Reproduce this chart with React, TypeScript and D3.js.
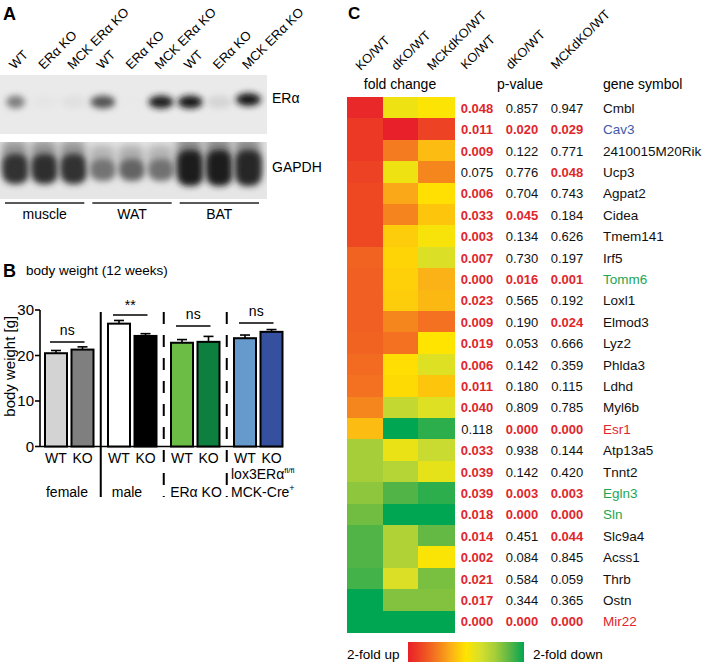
import React from 'react';
import * as d3 from 'd3';

const FONT = '"Liberation Sans", Arial, Helvetica, sans-serif';

// ---------- Panel A (western blot) ----------
const laneLabels = ['WT', 'ERα KO', 'MCK ERα KO', 'WT', 'ERα KO', 'MCK ERα KO', 'WT', 'ERα KO', 'MCK ERα KO'];
const tissues = ['muscle', 'WAT', 'BAT'];
const eraBand = [0.5, 0.02, 0.04, 0.7, 0.0, 0.95, 0.97, 0.1, 0.97];
const gapdhBand = [0.86, 0.87, 0.86, 0.55, 0.62, 0.56, 0.94, 0.95, 0.9];

// ---------- Panel B (body weight) ----------
const groups = ['female', 'male', 'ERα KO', 'lox3'];
const genotypes = ['WT', 'KO'];
const bwWT = [20.5, 27.0, 22.8, 23.8];
const bwKO = [21.3, 24.3, 23.0, 25.2];
const errWT = [0.6, 0.7, 0.7, 0.7];
const errKO = [0.6, 0.5, 1.2, 0.5];
const colWT = ['#d3d3d3', '#ffffff', '#6bbd45', '#6699cc'];
const colKO = ['#7f7f7f', '#000000', '#0d8040', '#34509f'];
const sigLabels = ['ns', '**', 'ns', 'ns'];
const yTicks = [0, 10, 20, 30];

// ---------- Panel C (heatmap) ----------
const genes = ['Cmbl', 'Cav3', '2410015M20Rik', 'Ucp3', 'Agpat2', 'Cidea', 'Tmem141', 'Irf5', 'Tomm6', 'Loxl1',
  'Elmod3', 'Lyz2', 'Phlda3', 'Ldhd', 'Myl6b', 'Esr1', 'Atp13a5', 'Tnnt2', 'Egln3', 'Sln', 'Slc9a4', 'Acss1',
  'Thrb', 'Ostn', 'Mir22'];
const compCols = ['KO/WT', 'dKO/WT', 'MCKdKO/WT'];
const foldKO = [0.95, 0.85, 0.85, 0.8, 0.76, 0.76, 0.76, 0.62, 0.64, 0.64, 0.64, 0.62, 0.58, 0.55, 0.45, 0.2,
  -0.5, -0.5, -0.58, -0.68, -0.78, -0.78, -0.82, -1, -1];
const foldDKO = [-0.1, 1.0, 0.5, -0.1, 0.3, 0.46, 0.12, 0.08, 0.1, 0.12, 0.45, 0.55, 0.03, 0.05, -0.35, -1,
  -0.12, -0.42, -0.78, -1, -0.45, -0.45, -0.22, -0.62, -1];
const foldMCK = [-0.02, 0.8, 0.2, 0.45, 0.02, 0.15, -0.05, -0.22, 0.25, 0.22, 0.55, 0.0, -0.2, 0.15, -0.2, -0.88,
  -0.32, -0.15, -0.88, -1, -0.72, -0.03, -0.65, -0.62, -1];
const pKO = [0.048, 0.011, 0.009, 0.075, 0.006, 0.033, 0.003, 0.007, 0.000, 0.023, 0.009, 0.019, 0.006, 0.011,
  0.040, 0.118, 0.033, 0.039, 0.039, 0.018, 0.014, 0.002, 0.021, 0.017, 0.000];
const pDKO = [0.857, 0.020, 0.122, 0.776, 0.704, 0.045, 0.134, 0.730, 0.016, 0.565, 0.190, 0.053, 0.142, 0.180,
  0.809, 0.000, 0.938, 0.142, 0.003, 0.000, 0.451, 0.084, 0.584, 0.344, 0.000];
const pMCK = [0.947, 0.029, 0.771, 0.048, 0.743, 0.184, 0.626, 0.197, 0.001, 0.192, 0.024, 0.666, 0.359, 0.115,
  0.785, 0.000, 0.144, 0.420, 0.003, 0.000, 0.044, 0.845, 0.059, 0.365, 0.000];
const geneColors: Record<string, string> = {
  Cav3: '#3d5aa8', Tomm6: '#1ea651', Esr1: '#e0262b', Egln3: '#1ea651', Sln: '#1ea651', Mir22: '#e0262b',
};

const colorDomain = [1, 0.75, 0.5, 0.25, 0, -0.25, -0.5, -0.75, -1];
const colorRange = ['#e8202a', '#ee4a23', '#f47b20', '#fbb216', '#ffe400', '#d6e02c', '#a6ce39', '#5bb646', '#00a651'];

export default function App() {
  // ---- A ----
  const lane = d3.scaleBand<number>().domain(d3.range(laneLabels.length)).range([1, 263]);
  const laneC = (i: number) => (lane(i) as number) + lane.bandwidth() / 2;
  const ink = d3.scaleLinear<string>().domain([0, 1]).range(['#e9e9e9', '#121212']);

  // ---- B ----
  const y = d3.scaleLinear().domain([0, 30]).range([446.5, 310]);
  const gx = d3.scaleBand<string>().domain(groups).range([34.5, 286.5]);
  const ix = d3.scaleBand<string>().domain(genotypes).range([10.5, 59]).paddingInner(0.17);
  const bars = groups.flatMap((g, gi) => genotypes.map((gt, k) => ({
    g, gi, gt,
    v: k === 0 ? bwWT[gi] : bwKO[gi],
    e: k === 0 ? errWT[gi] : errKO[gi],
    fill: k === 0 ? colWT[gi] : colKO[gi],
    x: (gx(g) as number) + (ix(gt) as number),
  })));
  const bw = ix.bandwidth();
  const seps = [1, 2, 3].map(gi => {
    const prevEnd = (gx(groups[gi - 1]) as number) + (ix('KO') as number) + bw;
    const nextStart = (gx(groups[gi]) as number) + (ix('WT') as number);
    return (prevEnd + nextStart) / 2;
  });
  const sigY = [342, 315, 326, 323];

  // ---- C ----
  const hx = d3.scaleBand<string>().domain(compCols).range([347, 454]);
  const hy = d3.scaleBand<string>().domain(genes).range([97, 632]);
  const px = d3.scaleBand<string>().domain(compCols).range([454.5, 589.5]);
  const color = d3.scaleLinear<string>().domain(colorDomain).range(colorRange);
  const folds = [foldKO, foldDKO, foldMCK];
  const pvals = [pKO, pDKO, pMCK];
  const fmt = d3.format('.3f');

  return (
    <svg width={709} height={664} style={{ position: 'absolute', left: 0, top: 0, background: '#fff' }}
      fontFamily={FONT}>
      <defs>
        <filter id="blur" x="-50%" y="-50%" width="200%" height="200%">
          <feGaussianBlur stdDeviation="3" />
        </filter>
        <filter id="blur2" x="-50%" y="-50%" width="200%" height="200%">
          <feGaussianBlur stdDeviation="4" />
        </filter>
        <clipPath id="blot1"><rect x={0} y={75} width={267} height={59} /></clipPath>
        <clipPath id="blot2"><rect x={0} y={142} width={267} height={57} /></clipPath>
        <linearGradient id="legendGrad" x1="0" x2="1" y1="0" y2="0">
          {colorDomain.map((d, i) => (
            <stop key={i} offset={`${(i / (colorDomain.length - 1)) * 100}%`} stopColor={color(d)} />
          ))}
        </linearGradient>
      </defs>

      {/* ================= Panel A ================= */}
      <text x={3} y={20} fontSize={18} fontWeight="bold">A</text>
      {laneLabels.map((l, i) => (
        <text key={i} transform={`translate(${laneC(i) - 1},70) rotate(-45)`} fontSize={13}>{l}</text>
      ))}
      <g clipPath="url(#blot1)">
        <rect x={0} y={75} width={267} height={59} fill="#eaeaea" />
        {eraBand.map((v, i) => (
          <ellipse key={i} cx={laneC(i)} cy={i === 8 ? 99.5 : 102} rx={i === 0 ? 9.5 : 12.5} ry={6.5} fill={ink(v)}
            filter="url(#blur)" />
        ))}
      </g>
      <g clipPath="url(#blot2)">
        <rect x={0} y={142} width={267} height={57} fill="#e6e6e6" />
        {gapdhBand.map((v, i) => {
          const t = Math.floor(i / 3);
          const h = t === 0 ? 30 : t === 1 ? 22 : 36;
          const cy = t === 0 ? 169 : t === 1 ? 170 : 168;
          return (
            <g key={i}>
              <rect x={laneC(i) - 14} y={cy - h / 2 - 14} width={26} height={h + 6} rx={8}
                fill={ink(v * 0.45)} filter="url(#blur2)" />
              <rect x={laneC(i) - 13} y={cy - h / 2} width={26} height={h} rx={10}
                fill={ink(v)} filter="url(#blur)" />
            </g>
          );
        })}
      </g>
      <text x={272} y={103} fontSize={14}>ERα</text>
      <text x={272} y={172} fontSize={14}>GAPDH</text>
      {tissues.map((t, ti) => {
        const x0 = lane(ti * 3) as number;
        const x1 = (lane(ti * 3 + 2) as number) + lane.bandwidth();
        return (
          <g key={t}>
            <line x1={x0 + 4} x2={x1 - 4} y1={203} y2={203} stroke="#222" strokeWidth={1.6} />
            <text x={(x0 + x1) / 2} y={219} fontSize={14} textAnchor="middle">{t}</text>
          </g>
        );
      })}

      {/* ================= Panel B ================= */}
      <text x={3} y={277} fontSize={18} fontWeight="bold">B</text>
      <text x={26} y={275} fontSize={13.5}>body weight (12 weeks)</text>
      <text transform={`translate(15,${(y(0) + y(30)) / 2 - 12}) rotate(-90)`} fontSize={15}
        textAnchor="middle">body weight [g]</text>
      <line x1={40} x2={40} y1={y(30)} y2={y(0)} stroke="#000" strokeWidth={1.6} />
      <line x1={40} x2={283} y1={y(0)} y2={y(0)} stroke="#000" strokeWidth={1.6} />
      {yTicks.map(t => (
        <g key={t}>
          <line x1={35} x2={40} y1={y(t)} y2={y(t)} stroke="#000" strokeWidth={1.6} />
          <text x={34} y={y(t) + 5} fontSize={15} textAnchor="end">{t}</text>
        </g>
      ))}
      {bars.map((b, i) => (
        <g key={i}>
          <line x1={b.x + bw / 2} x2={b.x + bw / 2} y1={y(b.v)} y2={y(b.v + b.e)} stroke="#000" strokeWidth={1.6} />
          <line x1={b.x + bw / 2 - 5} x2={b.x + bw / 2 + 5} y1={y(b.v + b.e)} y2={y(b.v + b.e)}
            stroke="#000" strokeWidth={1.6} />
          <rect x={b.x} y={y(b.v)} width={bw} height={y(0) - y(b.v)} fill={b.fill} stroke="#000" strokeWidth={2} />
          <text x={b.x + bw / 2} y={463} fontSize={14} textAnchor="middle">{b.gt}</text>
        </g>
      ))}
      {groups.map((g, gi) => {
        const xa = (gx(g) as number) + (ix('WT') as number) + 5;
        const xb = (gx(g) as number) + (ix('KO') as number) + bw - 9;
        return (
          <g key={g}>
            <line x1={xa} x2={xb} y1={sigY[gi]} y2={sigY[gi]} stroke="#000" strokeWidth={1.6} />
            <text x={(xa + xb) / 2} y={sigY[gi] - (sigLabels[gi] === '**' ? 5 : 7)} fontSize={14}
              textAnchor="middle">{sigLabels[gi]}</text>
          </g>
        );
      })}
      {seps.map((s, i) => (
        <line key={i} x1={s} x2={s} y1={312} y2={497} stroke="#000" strokeWidth={2}
          strokeDasharray={i === 0 ? undefined : '12 11'} />
      ))}
      <text x={67} y={497} fontSize={14} textAnchor="middle">female</text>
      <text x={127} y={497} fontSize={14} textAnchor="middle">male</text>
      <text x={196} y={497} fontSize={14} textAnchor="middle">ERα KO</text>
      <text x={231} y={479} fontSize={14}>lox3ERα<tspan fontSize={8} dy={-6}>fl/fl</tspan></text>
      <text x={231} y={497} fontSize={14}>MCK-Cre<tspan fontSize={9} dy={-6}>+</tspan></text>

      {/* ================= Panel C ================= */}
      <text x={348} y={18.5} fontSize={17} fontWeight="bold">C</text>
      {compCols.map(c => (
        <text key={'f' + c} transform={`translate(${(hx(c) as number) + hx.bandwidth() / 2 - 4},71) rotate(-45)`}
          fontSize={12.8}>{c}</text>
      ))}
      {compCols.map(c => (
        <text key={'p' + c} transform={`translate(${(px(c) as number) + px.bandwidth() / 2 - 11},70) rotate(-45)`}
          fontSize={12.8}>{c}</text>
      ))}
      <text x={400} y={89} fontSize={14} textAnchor="middle">fold change</text>
      <text x={520} y={89} fontSize={14} textAnchor="middle">p-value</text>
      <text x={603} y={89} fontSize={14}>gene symbol</text>
      {genes.map((g, gi) => (
        <g key={g}>
          {compCols.map((c, ci) => (
            <rect key={c} x={hx(c)} y={hy(g)} width={hx.bandwidth() + 0.5} height={hy.bandwidth() + 0.5}
              fill={color(folds[ci][gi])} shapeRendering="crispEdges" />
          ))}
          {compCols.map((c, ci) => {
            const p = pvals[ci][gi];
            const sig = p < 0.05;
            return (
              <text key={'p' + c} x={(px(c) as number) + px.bandwidth() / 2}
                y={(hy(g) as number) + hy.bandwidth() / 2 + 5} fontSize={13} textAnchor="middle"
                fontWeight={sig ? 'bold' : 'normal'} fill={sig ? '#e0262b' : '#111'}>{fmt(p)}</text>
            );
          })}
          <text x={603} y={(hy(g) as number) + hy.bandwidth() / 2 + 5} fontSize={13.5}
            fill={geneColors[g] || '#111'}>{g}</text>
        </g>
      ))}
      <text x={347} y={659} fontSize={13.5}>2-fold up</text>
      <rect x={408} y={642} width={116} height={20} fill="url(#legendGrad)" />
      <text x={533} y={659} fontSize={13.5}>2-fold down</text>
    </svg>
  );
}
